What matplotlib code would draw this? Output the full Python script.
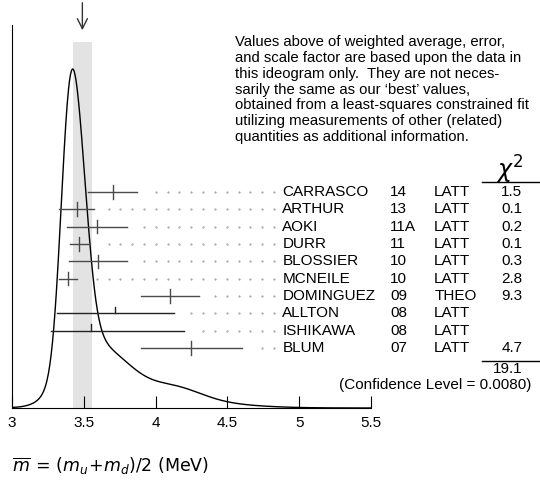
import matplotlib
matplotlib.use("Agg")
import matplotlib.pyplot as plt
import numpy as np

plt.rcParams['font.family'] = ['Liberation Sans', 'DejaVu Sans']

# measurements (MeV)
names = ["CARRASCO", "ARTHUR", "AOKI", "DURR", "BLOSSIER", "MCNEILE",
         "DOMINGUEZ", "ALLTON", "ISHIKAWA", "BLUM"]
years = ["14", "13", "11A", "11", "10", "10", "09", "08", "08", "07"]
techs = ["LATT", "LATT", "LATT", "LATT", "LATT", "LATT", "THEO", "LATT", "LATT", "LATT"]
values = [3.70, 3.45, 3.59, 3.469, 3.6, 3.39, 4.1, 3.72, 3.55, 4.25]
err_lo = [0.17, 0.12, 0.21, 0.067, 0.2, 0.06, 0.2, 0.41, 0.28, 0.35]
err_hi = [0.17, 0.12, 0.21, 0.067, 0.2, 0.06, 0.2, 0.41, 0.65, 0.35]
chi2 = ["1.5", "0.1", "0.2", "0.1", "0.3", "2.8", "9.3", "", "", "4.7"]
used = [True, True, True, True, True, True, True, False, False, True]
chi2_total = "19.1"
conf_level = "(Confidence Level = 0.0080)"
avg = 3.49
band = (3.425, 3.557)

note = ("Values above of weighted average, error,\n"
        "and scale factor are based upon the data in\n"
        "this ideogram only.  They are not neces-\n"
        "sarily the same as our \u2018best\u2019 values,\n"
        "obtained from a least-squares constrained fit\n"
        "utilizing measurements of other (related)\n"
        "quantities as additional information.")

fig = plt.figure(figsize=(5.4, 4.8), dpi=100)
ax = fig.add_axes([12/540, 72/480, 359/540, 383/480])

# ideogram: sum of gaussians, area ~ 1/sigma, for the measurements used
x = np.linspace(3.0, 5.5, 800)
ideo = np.zeros_like(x)
for v, lo, hi, u in zip(values, err_lo, err_hi, used):
    if u:
        s = (lo + hi) / 2
        ideo += np.exp(-0.5 * ((x - v) / s) ** 2) / s ** 2
ax.plot(x, ideo, color='black', lw=1.0)
ax.set_xlim(3.0, 5.5)
ax.set_ylim(0, ideo.max() * 383 / 339)

ax.axvspan(band[0], band[1], ymax=366/383, color='#e3e3e3', zorder=0, lw=0)
ax.annotate("", xy=(avg, 1 - 8/383), xytext=(avg, 1 + 25/383),
            xycoords=ax.get_xaxis_transform(),
            arrowprops=dict(arrowstyle='->', color='#333333', lw=1.0,
                            mutation_scale=18))

tr = ax.get_xaxis_transform()
y0 = (408 - 192) / 383
dy = 17.35 / 383
dot_step = 0.0822
dot_end = 4.824
dot_x = dot_end - dot_step * np.arange(0, 22)
for i in range(len(names)):
    y = y0 - i * dy
    lo = values[i] - err_lo[i]
    hi = values[i] + err_hi[i]
    col = '#4a4a4a' if used[i] else '#222222'
    ax.plot([lo, hi], [y, y], color=col, lw=1.0, transform=tr, clip_on=False)
    th = 0.017 if used[i] else 0.0
    ax.plot([values[i], values[i]], [y - th, y + 0.018], color=col, lw=1.0,
             transform=tr, clip_on=False)
    dx = dot_x[dot_x > hi + 0.08]
    ax.plot(dx, np.full(len(dx), y), ls='none', marker='.', ms=0.9,
            color='#8a8a8a', transform=tr, clip_on=False)
    ax.text(4.882, y, names[i], transform=tr, fontsize=11, va='center')
    ax.text(5.632, y, years[i], transform=tr, fontsize=11, va='center')
    ax.text(5.94, y, techs[i], transform=tr, fontsize=11, va='center')
    ax.text(6.555, y, chi2[i], transform=tr, fontsize=11, va='center', ha='right')

fig.text(523/540, 1 - 170/480, r"$\chi^2$", fontsize=17, ha='right', va='center')
fig.add_artist(plt.Line2D([482/540, 1], [1 - 182/480] * 2, color='black', lw=1.0))
fig.add_artist(plt.Line2D([482/540, 1], [1 - 361/480] * 2, color='black', lw=1.0))
fig.text(523/540, 1 - 369/480, chi2_total, fontsize=11, ha='right', va='center')
fig.text(531/540, 1 - 385/480, conf_level, fontsize=11, ha='right', va='center')
fig.text(235/540, 1 - 35/480, note, fontsize=10.7, ha='left', va='top',
         linespacing=1.17)

for s in ['top', 'right']:
    ax.spines[s].set_visible(False)
ax.set_yticks([])
ax.set_xticks([3, 3.5, 4, 4.5, 5, 5.5])
ax.set_xticklabels(["3", "3.5", "4", "4.5", "5", "5.5"])
ax.tick_params(axis='x', direction='in', length=9, labelsize=11, pad=6)

fig.text(12/540, 1 - 466/480,
         r"$\overline{m}\,=\,(m_u\!+\!m_d)/2\ (\mathrm{MeV})$",
         fontsize=12.5, ha='left', va='center', family='DejaVu Sans')

fig.savefig("out.png", dpi=100)
